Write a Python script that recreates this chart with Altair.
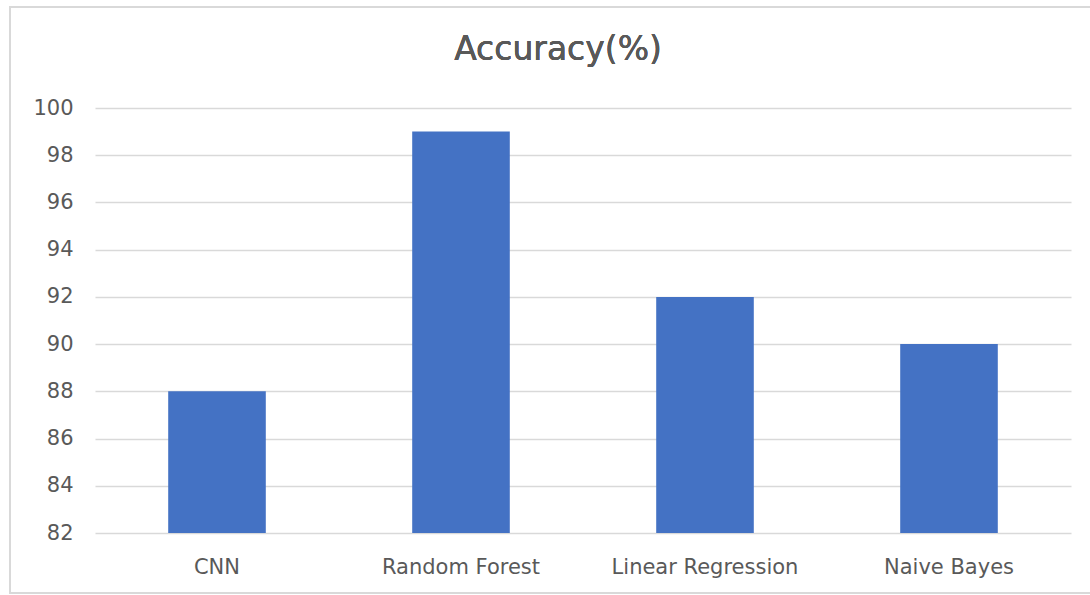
import altair as alt
import pandas as pd

models = ["CNN", "Random Forest", "Linear Regression", "Naive Bayes"]
accuracy = [88, 99, 92, 90]
y_ticks = [82, 84, 86, 88, 90, 92, 94, 96, 98, 100]
chart_title = "Accuracy(%)"

df = pd.DataFrame({"model": models, "accuracy": accuracy})

FONT = "DejaVu Sans"
GRAY = "#595959"

bars = alt.Chart(df).mark_bar(color="#4472C4", clip=True).encode(
    x=alt.X(
        "model:N",
        sort=models,
        title=None,
        scale=alt.Scale(paddingInner=0.6, paddingOuter=0.3),
        axis=alt.Axis(
            labelAngle=0, labelFontSize=21, labelColor=GRAY, labelFont=FONT,
            labelPadding=23, labelLimit=400, domain=False, ticks=False,
            grid=False,
        ),
    ),
    y=alt.Y(
        "accuracy:Q",
        title=None,
        scale=alt.Scale(domain=[82, 100], nice=False, zero=False),
        axis=alt.Axis(
            values=y_ticks, labelFontSize=21, labelColor=GRAY, labelFont=FONT,
            labelPadding=22, domain=False, ticks=False, grid=True,
            gridColor="#d9d9d9", gridWidth=1.5,
        ),
    ),
)

# light frame around the whole figure
frame = alt.Chart(df).mark_rect(
    fill=None, stroke="#d9d9d9", strokeWidth=1.5, clip=False
).encode(
    x=alt.value(-85), x2=alt.value(1010), y=alt.value(-101), y2=alt.value(485)
)

# chart heading
heading = alt.Chart(df).mark_text(
    font=FONT, fontSize=33, color=GRAY, align="center", baseline="middle"
).encode(
    x=alt.value(463), y=alt.value(-58), text=alt.value(chart_title)
)

chart = alt.layer(frame, bars, heading).properties(
    width=976,
    height=425,
    autosize=alt.AutoSizeParams(type="none"),
    padding={"left": 95, "top": 108, "right": 19, "bottom": 62},
).configure_view(stroke=None)

chart.save("out.html", embed_options={"renderer": "svg", "actions": False})
